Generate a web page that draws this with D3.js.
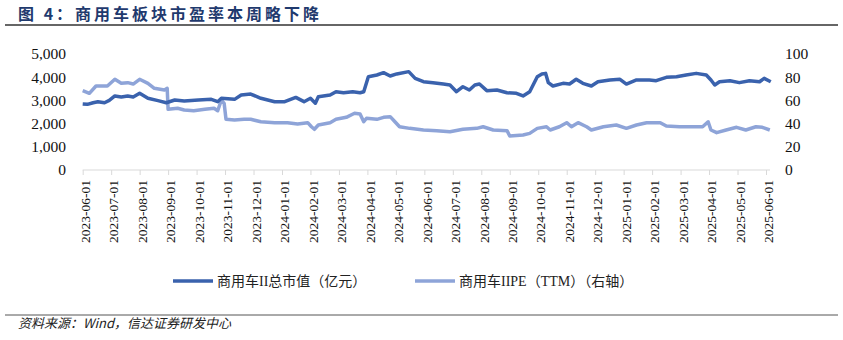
<!DOCTYPE html>
<html>
<head>
<meta charset="utf-8">
<script src="https://cdn.jsdelivr.net/npm/d3@7"></script>
<style>
  html, body { margin: 0; padding: 0; background: #fff; }
  svg { display: block; }
</style>
</head>
<body>
<svg id="chart" width="843" height="340"></svg>
<script>
// Monthly axis labels
const tickLabels = [
  "2023-06-01","2023-07-01","2023-08-01","2023-09-01","2023-10-01","2023-11-01",
  "2023-12-01","2024-01-01","2024-02-01","2024-03-01","2024-04-01","2024-05-01",
  "2024-06-01","2024-07-01","2024-08-01","2024-09-01","2024-10-01","2024-11-01",
  "2024-12-01","2025-01-01","2025-02-01","2025-03-01","2025-04-01","2025-05-01",
  "2025-06-01"
];

// 商用车II总市值（亿元）
const capDates = [
  "2023-06-01","2023-06-06","2023-06-12","2023-06-17","2023-06-24","2023-06-29",
  "2023-07-05","2023-07-12","2023-07-19","2023-07-25","2023-08-01","2023-08-10",
  "2023-08-21","2023-08-30","2023-09-08","2023-09-18","2023-10-03","2023-10-17",
  "2023-10-24","2023-10-28","2023-11-11","2023-11-18","2023-11-28","2023-12-09",
  "2023-12-24","2024-01-04","2024-01-16","2024-01-25","2024-02-01","2024-02-06",
  "2024-02-09","2024-02-21","2024-02-27","2024-03-06","2024-03-16","2024-03-24",
  "2024-03-28","2024-04-02","2024-04-11","2024-04-18","2024-04-25","2024-05-02",
  "2024-05-15","2024-05-22","2024-05-31","2024-06-10","2024-06-21","2024-06-28",
  "2024-07-05","2024-07-12","2024-07-19","2024-07-25","2024-07-30","2024-08-07",
  "2024-08-18","2024-08-29","2024-09-08","2024-09-15","2024-09-22","2024-09-30",
  "2024-10-05","2024-10-09","2024-10-12","2024-10-17","2024-10-28","2024-11-04",
  "2024-11-11","2024-11-18","2024-11-27","2024-12-04","2024-12-17","2024-12-28",
  "2025-01-04","2025-01-15","2025-01-29","2025-02-05","2025-02-15","2025-02-25",
  "2025-03-07","2025-03-18","2025-03-29","2025-04-03","2025-04-07","2025-04-12",
  "2025-04-23","2025-05-03","2025-05-14","2025-05-25","2025-05-30","2025-06-06"
];
const capValues = [
  2845,2830,2900,2945,2900,3000,
  3190,3150,3190,3150,3305,3090,
  2990,2900,3017,2975,3017,3045,
  2945,3090,3045,3230,3275,3090,
  2945,2945,3130,2945,3090,2880,
  3160,3230,3375,3330,3375,3330,
  3375,4020,4095,4195,4050,4140,
  4240,3950,3805,3765,3705,3665,
  3375,3590,3450,3665,3705,3420,
  3450,3330,3305,3190,3375,4020,
  4140,4165,3765,3620,3735,3705,
  3910,3735,3620,3805,3880,3910,
  3705,3880,3880,3850,3995,4020,
  4095,4165,4095,3880,3665,3805,
  3850,3765,3850,3805,3950,3805
];

// 商用车IIPE（TTM）（右轴）
const peDates = [
  "2023-06-01","2023-06-08","2023-06-15","2023-06-27","2023-07-05","2023-07-12",
  "2023-07-19","2023-07-25","2023-08-01","2023-08-10","2023-08-17","2023-08-28",
  "2023-08-31","2023-09-01","2023-09-11","2023-09-18","2023-09-28","2023-10-10",
  "2023-10-20","2023-10-24","2023-10-28","2023-10-31","2023-11-02","2023-11-11",
  "2023-11-21","2023-11-28","2023-12-09","2023-12-24","2024-01-07","2024-01-18",
  "2024-01-29","2024-02-02","2024-02-05","2024-02-09","2024-02-21","2024-02-27",
  "2024-03-09","2024-03-18","2024-03-24","2024-03-28","2024-03-31","2024-04-11",
  "2024-04-18","2024-04-25","2024-04-30","2024-05-05","2024-05-16","2024-05-31",
  "2024-06-14","2024-06-28","2024-07-12","2024-07-27","2024-08-03","2024-08-14",
  "2024-08-29","2024-09-01","2024-09-15","2024-09-22","2024-09-30","2024-10-10",
  "2024-10-14","2024-10-24","2024-11-01","2024-11-06","2024-11-13","2024-11-22",
  "2024-11-27","2024-12-10","2024-12-24","2025-01-04","2025-01-15","2025-01-26",
  "2025-02-09","2025-02-15","2025-02-28","2025-03-14","2025-03-25","2025-03-31",
  "2025-04-03","2025-04-09","2025-04-19","2025-04-30","2025-05-10","2025-05-21",
  "2025-05-28","2025-06-05"
];
const peValues = [
  68.4,66.1,72.4,72.4,78.2,74.7,
  75.3,74.1,78.2,74.7,70.4,69.0,
  70.4,52.3,53.2,51.7,51.1,52.3,
  53.2,51.1,60.3,57.5,43.7,43.1,
  43.7,43.7,41.6,40.8,40.8,39.7,
  40.8,37.3,35.1,38.8,40.8,43.7,
  45.4,48.9,48.3,41.6,44.6,43.7,
  45.4,46.0,41.6,37.3,35.9,34.5,
  33.9,33.0,35.1,35.9,37.3,34.5,
  33.9,29.3,30.2,31.6,35.9,37.3,
  34.5,37.3,40.8,37.3,40.8,37.3,
  34.5,37.3,38.8,35.9,38.8,40.8,
  40.8,37.9,37.3,37.3,37.3,41.6,
  34.5,32.2,34.5,36.8,34.5,37.3,
  36.8,34.5
];

const leftTicks = [0, 1000, 2000, 3000, 4000, 5000];
const rightTicks = [0, 20, 40, 60, 80, 100];

const capColor = "#3A62AD";
const peColor = "#8EA4D8";

const serif = "'Liberation Serif', 'Times New Roman', serif";
const mixed = "'Liberation Serif', 'Noto Sans CJK SC', serif";

const svg = d3.select("#chart");
svg.append("rect").attr("width", 843).attr("height", 340).attr("fill", "#fff");

// Title and rules
svg.append("text")
  .attr("x", 18).attr("y", 20)
  .attr("font-family", "'Noto Sans CJK SC', sans-serif")
  .attr("font-size", 16).attr("font-weight", "bold")
  .attr("letter-spacing", 3)
  .attr("fill", "#1F3A6E")
  .text("图 4：商用车板块市盈率本周略下降");
svg.append("line").attr("x1", 5).attr("x2", 838).attr("y1", 25).attr("y2", 25)
  .attr("stroke", "#333").attr("stroke-width", 1.5);
svg.append("line").attr("x1", 5).attr("x2", 838).attr("y1", 315).attr("y2", 315)
  .attr("stroke", "#555").attr("stroke-width", 1);
svg.append("text")
  .attr("x", 18).attr("y", 328)
  .attr("font-family", "'Noto Sans CJK SC', sans-serif")
  .attr("font-size", 13).attr("font-style", "italic")
  .attr("fill", "#222")
  .text("资料来源：Wind，信达证券研发中心");

// Calendar date -> fractional month position on the axis
const parse = d3.timeParse("%Y-%m-%d");
function monthPos(d) {
  const y = d.getFullYear(), m = d.getMonth();
  const k = (y - 2023) * 12 + m - 5;
  const dim = new Date(y, m + 1, 0).getDate();
  return k + (d.getDate() - 1) / dim;
}

const x = d3.scaleLinear().domain([0, tickLabels.length - 1]).range([82.7, 766]);
const yL = d3.scaleLinear().domain([0, 5000]).range([170, 54]);
const yR = d3.scaleLinear().domain([0, 100]).range([170, 54]);

// Left axis
const leftAxis = svg.append("g").attr("transform", "translate(66,0)")
  .call(d3.axisLeft(yL).tickValues(leftTicks).tickSize(0).tickPadding(0).tickFormat(d3.format(",")));
leftAxis.select(".domain").remove();
leftAxis.selectAll("text")
  .attr("font-family", serif)
  .attr("font-size", 15.5).attr("fill", "#111");

// Right axis
const rightAxis = svg.append("g").attr("transform", "translate(785,0)")
  .call(d3.axisRight(yR).tickValues(rightTicks).tickSize(0).tickPadding(0));
rightAxis.select(".domain").remove();
rightAxis.selectAll("text")
  .attr("font-family", serif)
  .attr("font-size", 15.5).attr("fill", "#111");

// Bottom axis
const bottom = svg.append("g").attr("transform", "translate(0,170)")
  .call(d3.axisBottom(x).tickValues(d3.range(tickLabels.length))
    .tickSize(5).tickSizeOuter(0).tickFormat(i => tickLabels[i]));
bottom.select(".domain").attr("stroke", "#D9D9D9").attr("d", "M82.7,0H770");
bottom.selectAll(".tick line").attr("stroke", "#D9D9D9");
bottom.selectAll(".tick text")
  .attr("font-family", serif)
  .attr("font-size", 13.5).attr("fill", "#111")
  .attr("transform", "rotate(-90)")
  .attr("text-anchor", "end")
  .attr("x", -10).attr("y", 2).attr("dy", "0.35em");

// Series
const capData = capDates.map((d, i) => ({ m: monthPos(parse(d)), v: capValues[i] }));
const peData = peDates.map((d, i) => ({ m: monthPos(parse(d)), v: peValues[i] }));

svg.append("path").datum(peData)
  .attr("fill", "none").attr("stroke", peColor).attr("stroke-width", 3.5)
  .attr("stroke-linejoin", "round")
  .attr("d", d3.line().x(d => x(d.m)).y(d => yR(d.v)));
svg.append("path").datum(capData)
  .attr("fill", "none").attr("stroke", capColor).attr("stroke-width", 3.5)
  .attr("stroke-linejoin", "round")
  .attr("d", d3.line().x(d => x(d.m)).y(d => yL(d.v)));

// Legend
const legend = [
  { label: "商用车II总市值（亿元）", color: capColor, x: 173 },
  { label: "商用车IIPE（TTM）（右轴）", color: peColor, x: 415 }
];
legend.forEach(l => {
  svg.append("line").attr("x1", l.x).attr("x2", l.x + 40).attr("y1", 281).attr("y2", 281)
    .attr("stroke", l.color).attr("stroke-width", 3.5);
  svg.append("text").attr("x", l.x + 44).attr("y", 286)
    .attr("font-family", mixed)
    .attr("font-size", 14).attr("fill", "#222")
    .text(l.label);
});
</script>
</body>
</html>
